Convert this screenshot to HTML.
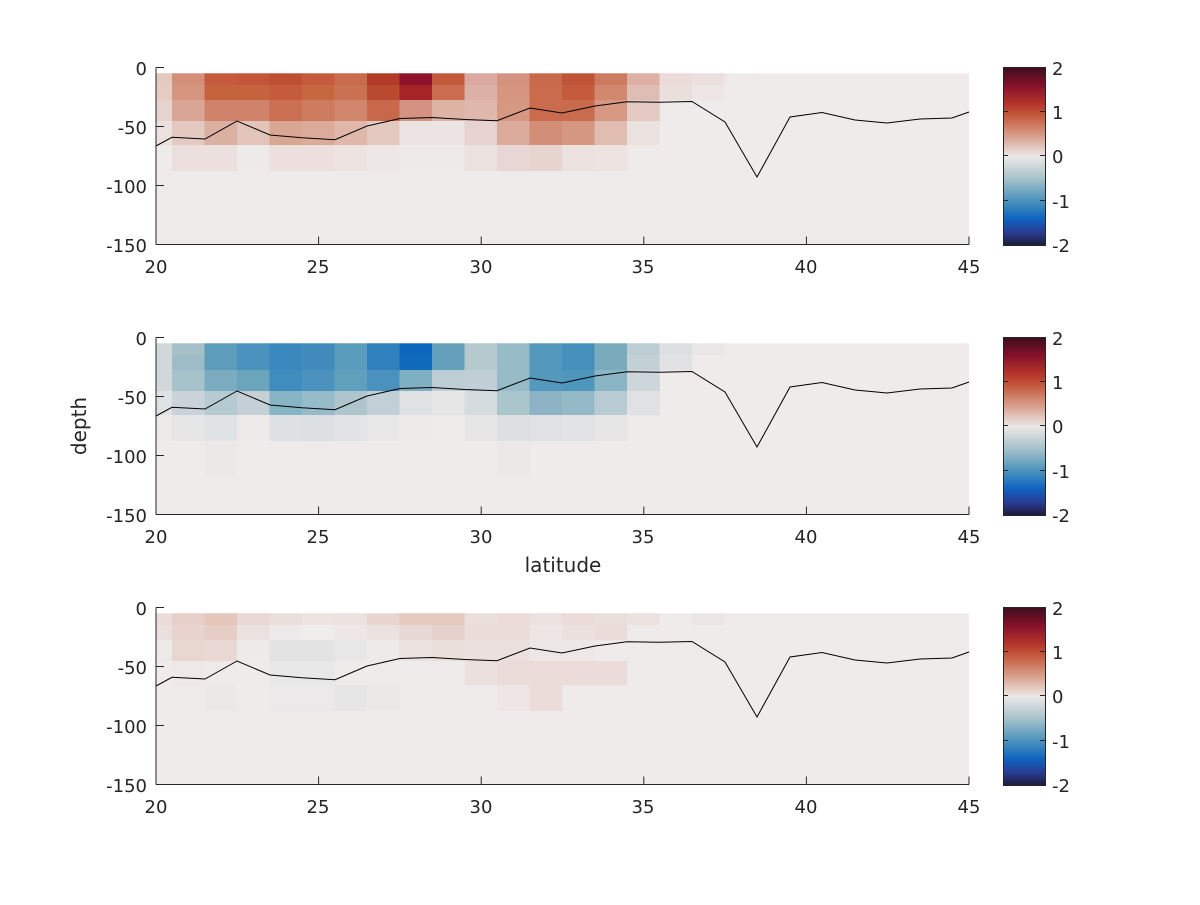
<!DOCTYPE html>
<html><head><meta charset="utf-8"><style>
html,body{margin:0;padding:0;background:#fff;}
svg text{font-family:"DejaVu Sans","Liberation Sans",sans-serif;font-size:18px;fill:#262626;}
</style></head><body>
<svg id="s" width="1200" height="900" viewBox="0 0 1200 900" xmlns="http://www.w3.org/2000/svg">
<defs>
<linearGradient id="cb" x1="0" y1="0" x2="0" y2="1">
<stop offset="0" stop-color="#3f0d1c"/>
<stop offset="0.1" stop-color="#85102a"/>
<stop offset="0.2" stop-color="#b3322a"/>
<stop offset="0.27" stop-color="#c45a3c"/>
<stop offset="0.38" stop-color="#d79c88"/>
<stop offset="0.5" stop-color="#ebe8e7"/>
<stop offset="0.62" stop-color="#a9c3cb"/>
<stop offset="0.75" stop-color="#4a93bd"/>
<stop offset="0.85" stop-color="#0e63c0"/>
<stop offset="0.93" stop-color="#2a3a90"/>
<stop offset="1" stop-color="#1c1b3a"/>
</linearGradient>
</defs>
<g id="p0"></g><g id="p1"></g><g id="p2"></g>
<g text-anchor="end">
<text x="147" y="75">0</text><text x="147" y="134">-50</text><text x="147" y="193">-100</text><text x="147" y="252">-150</text>
<text x="147" y="345">0</text><text x="147" y="404">-50</text><text x="147" y="463">-100</text><text x="147" y="522">-150</text>
<text x="147" y="615">0</text><text x="147" y="674">-50</text><text x="147" y="733">-100</text><text x="147" y="792">-150</text>
</g>
<g text-anchor="middle">
<text x="156" y="273">20</text><text x="318" y="273">25</text><text x="481" y="273">30</text><text x="643" y="273">35</text><text x="806" y="273">40</text><text x="969" y="273">45</text>
<text x="156" y="543">20</text><text x="318" y="543">25</text><text x="481" y="543">30</text><text x="643" y="543">35</text><text x="806" y="543">40</text><text x="969" y="543">45</text>
<text x="156" y="813">20</text><text x="318" y="813">25</text><text x="481" y="813">30</text><text x="643" y="813">35</text><text x="806" y="813">40</text><text x="969" y="813">45</text>
<text x="563" y="572" style="font-size:20px">latitude</text>
<text x="0" y="0" transform="translate(86,426) rotate(-90)" style="font-size:20px">depth</text>
</g>
<g>
<text x="1052" y="75">2</text><text x="1052" y="119">1</text><text x="1052" y="163">0</text><text x="1052" y="208">-1</text><text x="1052" y="252">-2</text>
<text x="1052" y="345">2</text><text x="1052" y="389">1</text><text x="1052" y="433">0</text><text x="1052" y="478">-1</text><text x="1052" y="522">-2</text>
<text x="1052" y="615">2</text><text x="1052" y="659">1</text><text x="1052" y="703">0</text><text x="1052" y="748">-1</text><text x="1052" y="792">-2</text>
</g>
</svg>
<script>
var NS="http://www.w3.org/2000/svg";
var B="#efebea";
var rowsY=[73.3,85,100,121,145,170.7,205,244.3];
function colX(i){ if(i==0) return [156,172]; var a=172+32.5*(i-1); return [a,Math.min(a+32.5,969)]; }
var P=[
[["#e4c9c0","#e6cbc3","#e6d3cf","#ebe2e0"],["#d48f78","#d6957f","#d9a594","#e4c9c1","#ebe0de"],["#c55a3e","#c6633f","#cf826a","#dab0a3","#ebe0de"],["#c2553a","#c6633f","#cf826a","#e2c4ba","#eeeaea"],["#bf4f33","#c35b3c","#ca6f52","#d9a694","#ebe0de"],["#c35b3c","#c6673f","#cd7b5f","#dbaa98","#ebe0de"],["#c86c4d","#ca7154","#d0866d","#dfb8ab","#ede4e2"],["#b33a27","#ba4a2f","#c8684b","#e4c9c0","#ede7e6"],["#8e1229","#a62326","#d49382","#ece4e2","#eeeaea"],["#c1593c","#ca6d50","#ddb3a6","#ece4e2","#eeeaea"],["#dca9a0","#dcb0a6","#dfb7ac","#e6d3cf","#ebe2e0"],["#d49380","#d6957f","#d69883","#daab9b","#e7d6d3"],["#c8694b","#c86c4d","#c86c4d","#d28e77","#e7d3cf"],["#c05437","#c35b3c","#c86c4d","#d59782","#ebe2e0"],["#cd7b60","#d1886f","#d69883","#e0bcb1","#ede4e2"],["#ddb0a3","#e0bdb4","#e4cac3","#ebe1df"],["#ebdcd9","#ebdfdc"],["#ebe0de","#ede6e4"],["#eeeaea"]],
[["#d0d8da","#d0d8da","#d0d8da","#dfe2e4","#ece9e8"],["#a6c0c8","#9dbcc7","#a6c3cb","#cad3d9","#e7e6e7"],["#5d9dbb","#5d9dbb","#7aabbf","#b6cad2","#e0e3e5","#ebe8e7"],["#4a91be","#4a91be","#6aa5bb","#c4d0d6","#ede9e8"],["#3a89be","#3a89be","#3f8cbe","#87b4c5","#dde1e4"],["#408bbc","#408bbc","#4b93be","#98bbca","#dcdfe1"],["#5a9cbc","#5a9cbc","#61a0bd","#aec5cd","#e2e3e4"],["#2f80bc","#2f80bc","#4a91be","#c1d0d7","#e8e7e8"],["#0d66be","#0f6abc","#7fb0c2","#dfe1e3","#ece9e8"],["#64a0bc","#64a0bc","#bdcdd3","#e6e6e7"],["#b5c9cf","#b5c9cf","#c0cfd5","#d5dcdf","#e7e6e7"],["#96bac6","#96bac6","#96bac6","#abc5cd","#dcdfe1","#ebe8e7"],["#5498bd","#5498bd","#5498bd","#8cb4c4","#dfe1e3"],["#4590bb","#4590bb","#4f96bd","#94b9c7","#e2e3e4"],["#79abbd","#79abbd","#8ab5c4","#b9cbd2","#e7e6e7"],["#bccdd4","#c3d0d6","#cdd6da","#dfe1e3"],["#dde0e2","#e0e2e4"],["#e8e6e6"]],
[["#ebdcd9","#ebe0de","#ede9e8"],["#e6cfc8","#e8d4cf","#e8d6d0","#eee9e8"],["#e4c6bb","#e6cec7","#e9d8d4",B,"#ebe8e8"],["#e9d8d3","#ebe2e0","#eeeaea"],["#ebdfdc","#eeeaea","#e3e3e3","#e9e8e8","#ebe9e9"],["#ede4e2","#efecec","#e3e3e3","#e9e8e8","#ebe9e9"],["#ebe1df","#ede7e6","#e8e7e7",B,"#e6e6e6"],["#e8d5cf","#ebe1de","#eeeaea",B,"#ebe8e8"],["#e6c9bf","#e8d8d4","#ebe2e0"],["#e6c9bf","#e6d1cc","#ebdfdc"],["#ebdfdc","#ebdcd9","#ebe0de","#ebe0de"],["#ebdcd9","#ebdcd9","#ebe0de","#ebdcd9","#ede6e4"],["#ebe2e0","#ede6e5","#ede7e6","#ebdcd9","#ebdcd9"],["#ebdcd9","#ebe0de","#ede7e6","#ebdcd9"],["#ebdfdc","#ebdcd9",B,"#ebdcd9"],["#ebe2e0"],[B],["#ebe6e4"]]
];
var line=[[156,146],[172,137.3],[205,139],[237,121],[270,135],[302,137.7],[335,139.7],[367,126],[400,118.5],[432,117.5],[465,119.5],[497,120.7],[530,108],[562,113],[595,106],[627,101.7],[660,102.3],[692,101.5],[725,122],[757,177],[790,117],[822,112.5],[855,120],[887,123],[920,119],[952,118],[969,112]];
function el(n,a,p){var e=document.createElementNS(NS,n);for(var k in a)e.setAttribute(k,a[k]);p.appendChild(e);return e;}
for(var p=0;p<3;p++){
 var g=document.getElementById("p"+p), off=270*p;
 el("rect",{x:156,y:73.3+off,width:813,height:171,fill:B},g);
 for(var c=0;c<26;c++){var cx=colX(c);var col=P[p][c]||[];
  for(var r=0;r<6;r++){var f=col[r]||B; if(f==B)continue;
   el("rect",{x:cx[0],y:rowsY[r]+off,width:cx[1]-cx[0]+0.3,height:rowsY[r+1]-rowsY[r]+0.3,fill:f},g);}}
 el("polyline",{points:line.map(function(q){return q[0]+","+(q[1]+off)}).join(" "),fill:"none",stroke:"#000","stroke-width":1},g);
 el("line",{x1:156,y1:67.5+off,x2:156,y2:244.5+off,stroke:"#262626","stroke-width":1},g);
 el("line",{x1:156,y1:244.5+off,x2:969,y2:244.5+off,stroke:"#262626","stroke-width":1},g);
 [67.5,126.5,185.5,244.5].forEach(function(y){el("line",{x1:156,y1:y+off,x2:164,y2:y+off,stroke:"#262626"},g);});
 [156,318.6,481.2,643.8,806.4,969].forEach(function(x){el("line",{x1:x,y1:244.5+off,x2:x,y2:236.5+off,stroke:"#262626"},g);});
 el("rect",{x:1003.5,y:67.5+off,width:42,height:178,fill:"url(#cb)",stroke:"#262626","stroke-width":1},g);
 [111.5,155.5,200.5].forEach(function(y){el("line",{x1:1040,y1:y+off,x2:1045.5,y2:y+off,stroke:"#262626"},g);el("line",{x1:1003.5,y1:y+off,x2:1008,y2:y+off,stroke:"#262626"},g);});
}
</script>
</body></html>
